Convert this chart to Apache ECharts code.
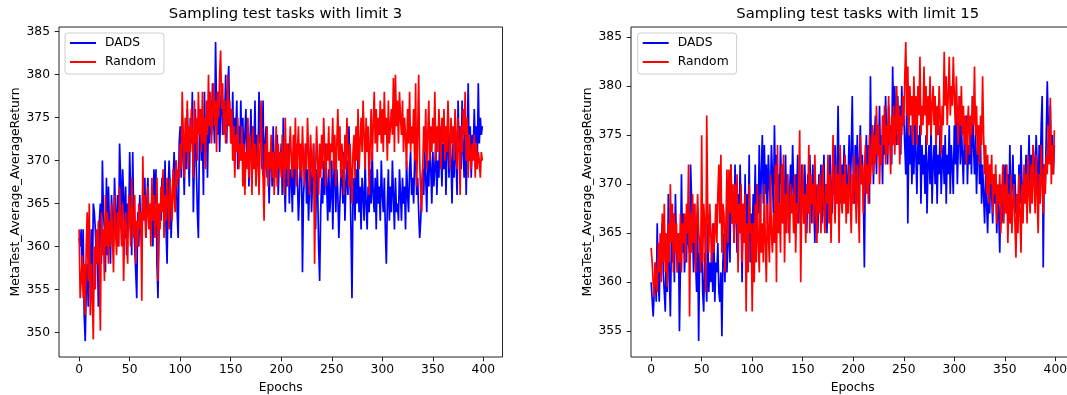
<!DOCTYPE html>
<html>
<head>
<meta charset="utf-8">
<script src="https://cdn.jsdelivr.net/npm/echarts@6/dist/echarts.min.js"></script>
<style>html,body{margin:0;padding:0;background:#fff;}#c{width:1067px;height:395px;}</style>
</head>
<body>
<div id="c"></div>
<script>
// ---- Data ----
const titles = ['Sampling test tasks with limit 3', 'Sampling test tasks with limit 15'];
const seriesNames = ['DADS', 'Random'];
const xTicks = [0, 50, 100, 150, 200, 250, 300, 350, 400];
const yTicksLeft = [350, 355, 360, 365, 370, 375, 380, 385];
const yTicksRight = [355, 360, 365, 370, 375, 380, 385];

const dadsLimit3 = [
361,360,362,356,362,352,349,355,358,353,
359,357,362,355,365,364,362,358,360,353,
363,365,358,370,364,362,357,368,359,367,
362,358,366,363,360,368,364,361,366,360,
372,368,362,369,366,361,367,359,365,362,
371,366,359,371,363,360,357,354,364,360,
366,362,360,367,364,368,361,365,368,363,
364,362,366,360,369,365,369,358,354,362,
365,363,368,366,364,370,362,358,366,370,
367,361,365,368,371,366,370,364,361,372,
374,368,375,371,366,373,369,376,371,367,
375,372,378,364,370,376,369,364,361,372,
375,370,373,366,378,371,374,368,376,372,
377,373,379,375,372,383.8,376,373,378,371,
376,379,373,377,375,380,372,378,381,374,
376,372,378,370,375,373,377,369,374,371,
377,370,375,368,373,376,371,374,367,372,
376,369,374,371,377,368,373,370,378,372,
375,369,377,366,372,374,368,371,365,370,
372,367,374,369,371,368,373,366,370,369,
372,366,375,368,364,370,367,372,365,369,
368,364,371,366,369,372,368,363,366,370,
371,357,366,368,372,365,369,363,367,370,
364,368,372,366,362,369,367,360,356,364,
368,365,370,366,372,367,363,369,364,366,
370,362,368,371,364,369,366,361,365,368,
369,365,371,363,367,370,366,374,368,362,
354,366,368,363,369,365,371,364,367,362,
368,366,363,370,365,362,367,364,369,365,
371,366,364,368,362,369,365,367,363,370,
366,364,368,362,358,365,369,363,367,364,
370,366,362,368,364,365,363,369,366,363,
368,365,367,362,370,366,364,369,371,366,
368,365,370,372,366,368,364,361,363,367,
369,366,371,368,364,370,367,372,369,365,
371,367,369,373,366,370,368,374,371,367,
372,369,374,366,371,376,368,373,370,365,
372,368,375,370,366,377,371,374,369,377,
371,368,375,366,372,379,370,374,368,373,
371,376,372,374,370,379,372,375,373,374
];
const randomLimit3 = [
362,354,356,359,354,358,352,360,364,356,
365,352,358,354,349.2,360,355,362,358,363,
357,350.2,364,359,362,356,366,360,364,358,
363,360,365,361,357,366,362,359,364,360,
367,363,360,365,356,362,364,361,358,366,
364,360,368,363,361,366,358,363,360,365,
362,364,353.7,370.5,363,366,361,364,367,362,
365,360,368,363,366,361,364,368,356,365,
362,367,364,369,361,366,363,368,365,362,
368,365,363,369,366,364,370,367,369,368,
372,369,378,373,368,375,371,377,369,374,
371,376,373,368,377,372,375,370,378,373,
376,371,378,372,375,369,377,373,380,374,
378,372,376,379,374,377,371,378,375,380,
382.8,376,379,373,377,372,375,380,374,377,
372,376,370,374,368,373,371,375,369,372,
370,374,367,372,366,371,369,375,368,373,
371,366,374,369,372,367,370,373,366,371,
377,370,368,363,372,369,374,367,371,369,
373,368,371,366,370,374,367,372,369,371,
368,373,370,366,375,369,372,367,371,374,
370,368,373,369,375,367,371,374,369,372,
368,374,370,367,372,369,375,371,366,373,
370,368,372,358,369,374,370,366,372,368,
373,369,375,371,367,372,370,374,368,372,
371,375,369,373,367,372,376,370,374,368,
372,370,366,373,369,375,371,367,372,369,
365,371,373,368,374,370,376,369,372,375,
371,377,373,369,375,371,374,366,372,376,
370,374,378,372,376,371,375,373,377,372,
376,371,378,373,375,370,377,372,374,376,
373,379.6,371,380,374,377,372,378,375,373,
377,371,375,373,369,376,372,378,371,374,
372,376,370,379,367,373,380,370,366,364,
369,374,371,376,369,373,377,370,374,371,
375,372,378,370,374,371,376,373,369,375,
372,376,370,374,371,377,373,369,375,372,
374,370,376,373,369,375,372,366,374,371,
376,373,378,370,375,368,373,371,369,372,
370,373,368,372,369,371,370,368,371,370
];
const dadsLimit15 = [
360,360,356.5,359,362,358,366,360,358,363,
364,366,361,359,357,364,359,369,361,356.5,
364,362,367,360,369,364,361,365,355,362,
371,363,367,361,365,362,368,364,363,372,
372,365,361,368,362,359,366,354,363,361,
365,359,357,363,361,358,366,359,362,360,
364,359,366,358,362,361,364,359,358,361,
354.5,362,365,360,366,361,364,368,362,372,
366,369,364,372,367,363,369,365,372,367,
360,368,364,371,363,369,365,373,362,367,
364,369,366,372,365,370,367,374,366,371,
375,368,374,369,372,366,373,370,368,374,
371,367,376,370,373,367,371,368,374,370,
372,366,369,373,367,371,365,369,372,368,
374,370,365,371,368,373,366,370,368,372,
370,366,372,368,365,371,367,373,369,366,
372,368,364,370,367,365,371,368,372,366,
369,373,367,370,365,371,368,373,370,367,
372,369,374,368,371,378,370,373,368,372,
370,374,369,372,367,371,375,369,373,379,
371,368,374,370,375,368,372,376,370,373,
369,361.5,372,375,370,374,368,381,372,376,
370,375,377,371,376,373,378,372,375,370,
377,373,379,375,372,378,374,376,372,382,
376,380,377,374,379,375,378,373,380,376,
377,374,371,379,366,375,372,376,370,374,
371,377,373,369,375,372,376,368,374,371,
373,369,375,367,372,374,370,376,368,372,
374,370,375,368,373,371,376,369,372,374,
370,375,368,373,371,376,369,374,372,369,
376,372,378,370,374,379,372,376,373,370,
375,372,377,370,374,372,376,371,379,374,
371,375,369,373,376,370,374,368,372,369,
366,371,368,365,370,367,372,369,366,371,
368,371,365,369,367,363,370,366,368,372,
369,372,367,371,368,374,366,370,373,368,
371,367,369,366,372,368,374,370,367,371,
369,373,368,371,375,369,373,370,374,372,
370,375,372,368,374,371,376,379,361.5,372,
370,375,380.5,376,373,378,372,375,371,374
];
const randomLimit15 = [
363.5,362,360,358.5,362,360,359,364,361,365,
360,367,362,368,361,365,359.5,366,362,370,
364,368,361,367,363,366,361,365,362,367,
361,366,364,367,362,368,365,372,356.5,367,
363,369,364,368,361,366,369,365,364,361,
375,362,368,366,359,377,367,363,368,365,
362,366,363,365,368,364,369,372,366,373,
363,368,367,361,366,371.5,364,371.5,367,372,
366,370,364,370,366,371,361,368,365,370,
362,368,364,369,357,366,361,370,365,366,
357,366,360,368,362,370,364,361,369,363,
366,362,370,364,360,368,365,362,371,365,
363,367,364,372,360,374,365,368,363,372,
366,373,362,369,365,371,367,364,370,367,
369,365,371,363,368,366,370,375.5,360,368,
372,366,369,364,370,367,374,365,371,368,
370,366,373,368,364,370,367,371,365,369,
372,367,365,370,368,373,366,371,364,369,
375,369,366,372,368,371,364,374,369,367,
371,368,373,366,370,367,372,369,365,371,
368,373,370,366,372,369,364,375,370,372,
367,371,374,369,372,368,375,370,373,376,
371,375,372,378,373,376,370,374,372,377,
374,378,372,376,373,379,375,371,377,374,
378,373,376,380,374,378,372,377,375,379,
376,381,384.5,377,382,375,380,377,379,374,
381,376,379,374,380,377,383,375,378,376,
382,377,380,374,379,376,381,375,378,380,
376,379,374,378,375,380,377,373,378,376,
383.5,378,381,376,379,383,377,380,378,383,
379,376,381,377,374,379,376,380,375,378,
374,377,372,376,378,373,377,375,379,376,
382,375,378,373,376,372,377,374,381,375,
371,374,369,373,368,372,370,373,367,371,
369,372,366,370,368,371,365,369,372,366,
370,367,372,364,369,366,371,365,368,370,
366,362.5,369,365,371,367,363,370,366,372,
368,371,366,373,369,367,372,368,374,370,
367,373,369,365,371,368,374,370,367,372,
369,373,371,376,372,378.8,370,374,371,375.5
];

// ---- Chart ----
const FONT = 'DejaVu Sans';
const AX = '#222';
const FS = 12.3;
const toPairs = arr => arr.map((v, i) => [i, v]);

function grid(left) {
  return { left: left, top: 27, width: 443.5, height: 330, show: true,
           outerBoundsMode: 'none',
           borderColor: AX, borderWidth: 1, backgroundColor: 'transparent', containLabel: false };
}
function xAxis(gi) {
  return {
    type: 'value', gridIndex: gi, min: -19.95, max: 418.95,
    name: 'Epochs', nameLocation: 'middle', nameGap: 25,
    nameTextStyle: { fontFamily: FONT, fontSize: FS, color: '#000' },
    axisLine: { show: false, onZero: false },
    splitLine: { show: false },
    axisTick: { show: true, inside: false, length: 4.3, customValues: xTicks, lineStyle: { color: AX } },
    axisLabel: { show: true, margin: 7, customValues: xTicks, fontFamily: FONT, fontSize: FS, color: '#000' }
  };
}
function yAxis(gi, min, max, ticks) {
  return {
    type: 'value', gridIndex: gi, min: min, max: max,
    name: 'MetaTest_Average_AverageReturn', nameLocation: 'middle', nameGap: 37, nameRotate: 90,
    nameTextStyle: { fontFamily: FONT, fontSize: FS, color: '#000' },
    axisLine: { show: false, onZero: false },
    splitLine: { show: false },
    axisTick: { show: true, inside: false, length: 4.3, customValues: ticks, lineStyle: { color: AX } },
    axisLabel: { show: true, margin: 9, customValues: ticks, fontFamily: FONT, fontSize: FS, color: '#000' }
  };
}
function legend(left) {
  return {
    orient: 'vertical', left: left, top: 33,
    data: seriesNames.map(n => ({ name: n, icon: 'rect' })),
    itemWidth: 26, itemHeight: 2, itemGap: 5,
    padding: [3, 8, 5, 5],
    backgroundColor: 'rgba(255,255,255,0.8)', borderColor: '#cccccc', borderWidth: 1, borderRadius: 3,
    textStyle: { fontFamily: FONT, fontSize: FS, color: '#000', lineHeight: 14, padding: [0, 0, 0, 4] },
    selectedMode: false
  };
}
function line(name, data, color, gi) {
  return {
    type: 'line', name: name, xAxisIndex: gi, yAxisIndex: gi,
    data: toPairs(data), showSymbol: false, symbol: 'none',
    lineStyle: { color: color, width: 1.7 }, itemStyle: { color: color },
    emphasis: { disabled: true }, silent: true, animation: false
  };
}

const chart = echarts.init(document.getElementById('c'), null, { renderer: 'canvas' });
chart.setOption({
  animation: false,
  backgroundColor: '#fff',
  title: [
    { text: titles[0], left: 59 + 443 / 2, top: 2, textAlign: 'center',
      textStyle: { fontFamily: FONT, fontSize: 14.8, fontWeight: 'normal', color: '#000' } },
    { text: titles[1], left: 631 + 443.5 / 2, top: 2, textAlign: 'center',
      textStyle: { fontFamily: FONT, fontSize: 14.8, fontWeight: 'normal', color: '#000' } }
  ],
  legend: [ legend(65), legend(637.7) ],
  grid: [ grid(59), grid(631) ],
  xAxis: [ xAxis(0), xAxis(1) ],
  yAxis: [ yAxis(0, 347.15, 385.55, yTicksLeft), yAxis(1, 352.37, 386.03, yTicksRight) ],
  series: [
    line(seriesNames[0], dadsLimit3, '#0000ff', 0),
    line(seriesNames[1], randomLimit3, '#ff0000', 0),
    line(seriesNames[0], dadsLimit15, '#0000ff', 1),
    line(seriesNames[1], randomLimit15, '#ff0000', 1)
  ]
});
</script>
</body>
</html>
